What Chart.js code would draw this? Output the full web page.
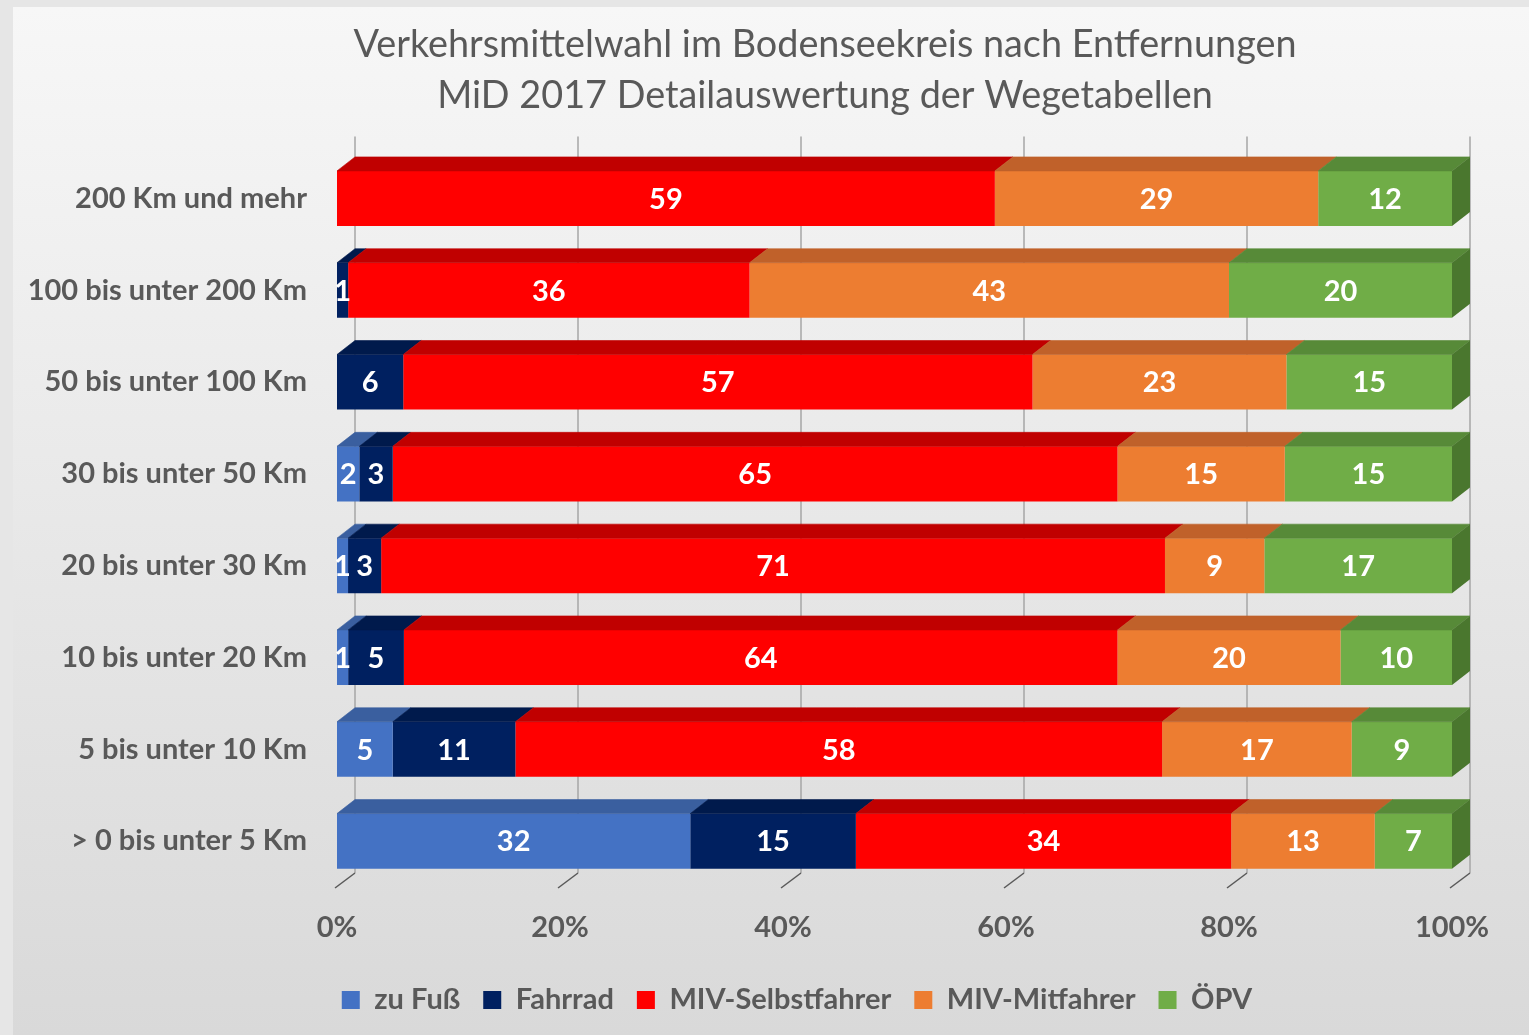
<!DOCTYPE html>
<html>
<head>
<meta charset="utf-8">
<script src="https://cdn.jsdelivr.net/npm/chart.js@4.4.0/dist/chart.umd.min.js"></script>
<style>
  html, body { margin: 0; padding: 0; background: #e4e4e4; }
  canvas { display: block; }
</style>
</head>
<body>
<canvas id="chart" width="1529" height="1035"></canvas>
<script>
// Verkehrsmittelwahl nach Entfernung (MiD 2017), Werte in Prozent je Entfernungsklasse
const categories = ['200 Km und mehr', '100 bis unter 200 Km', '50 bis unter 100 Km', '30 bis unter 50 Km',
                    '20 bis unter 30 Km', '10 bis unter 20 Km', '5 bis unter 10 Km', '> 0 bis unter 5 Km'];
const zuFuss    = [0, 0, 0, 2, 1, 1, 5, 32];
const fahrrad   = [0, 1, 6, 3, 3, 5, 11, 15];
const mivSelbst = [59, 36, 57, 65, 71, 64, 58, 34];
const mivMit    = [29, 43, 23, 15, 9, 20, 17, 13];
const oepv      = [12, 20, 15, 15, 17, 10, 9, 7];
const xTicks    = [0, 20, 40, 60, 80, 100];

const serien = [
    { label: 'zu Fuß', werte: zuFuss, front: '#4472C4', top: '#3A5F9F', side: '#2F4F86' },
    { label: 'Fahrrad', werte: fahrrad, front: '#002060', top: '#001A4C', side: '#00143C' },
    { label: 'MIV-Selbstfahrer', werte: mivSelbst, front: '#FF0000', top: '#C00000', side: '#A00000' },
    { label: 'MIV-Mitfahrer', werte: mivMit, front: '#ED7D31', top: '#C0612A', side: '#A65222' },
    { label: 'ÖPV', werte: oepv, front: '#70AD47', top: '#578A38', side: '#4A772E' }
];

// 100%-Stapel: Summe je Zeile (gerundete Werte ergeben teils 101)
const summen = categories.map((_, j) => serien.reduce((s, r) => s + r.werte[j], 0));

const DX = 18, DY = 14; // Tiefe der 3D-Balken
const grau = '#595959';
const schrift = 'Lato';

const hintergrund = {
    id: 'hintergrund',
    beforeDraw(chart) {
        const { ctx, width, height } = chart;
        ctx.save();
        ctx.fillStyle = '#e6e6e6';
        ctx.fillRect(0, 0, width, height);
        const g = ctx.createLinearGradient(0, 7, 0, height);
        g.addColorStop(0, '#f7f7f7');
        g.addColorStop(1, '#d9d9d9');
        ctx.fillStyle = g;
        ctx.fillRect(13, 7, width - 13, height - 7);
        ctx.restore();
    }
};

const rueckwand = {
    id: 'rueckwand',
    beforeDatasetsDraw(chart) {
        const { ctx, chartArea, scales: { x } } = chart;
        const boden = chartArea.bottom - DY;
        ctx.save();
        ctx.lineWidth = 1.5;
        xTicks.forEach(v => {
            const px = x.getPixelForValue(v);
            ctx.strokeStyle = '#a6a6a6';
            ctx.beginPath();
            ctx.moveTo(px + DX, chartArea.top - DY - 2);
            ctx.lineTo(px + DX, boden);
            ctx.stroke();
            ctx.strokeStyle = grau;
            ctx.beginPath();
            ctx.moveTo(px + DX, boden);
            ctx.lineTo(px - 2, chartArea.bottom + 1);
            ctx.stroke();
        });
        ctx.restore();
    }
};

const balken3d = {
    id: 'balken3d',
    afterDatasetsDraw(chart) {
        const { ctx } = chart;
        ctx.save();
        categories.forEach((_, j) => {
            let letzter = null;
            chart.data.datasets.forEach((ds, i) => {
                if (!ds.data[j]) return;
                const b = chart.getDatasetMeta(i).data[j].getProps(['x', 'base', 'y', 'height'], true);
                const oben = b.y - b.height / 2;
                ctx.fillStyle = serien[i].top;
                ctx.strokeStyle = serien[i].top;
                ctx.lineWidth = 0.6;
                ctx.beginPath();
                ctx.moveTo(b.base, oben);
                ctx.lineTo(b.base + DX, oben - DY);
                ctx.lineTo(b.x + DX, oben - DY);
                ctx.lineTo(b.x, oben);
                ctx.closePath();
                ctx.fill();
                ctx.stroke();
                letzter = { i, b, oben };
            });
            if (letzter) {
                const { i, b, oben } = letzter;
                ctx.fillStyle = serien[i].side;
                ctx.beginPath();
                ctx.moveTo(b.x, oben);
                ctx.lineTo(b.x + DX, oben - DY);
                ctx.lineTo(b.x + DX, oben + b.height - DY);
                ctx.lineTo(b.x, oben + b.height);
                ctx.closePath();
                ctx.fill();
            }
        });
        // Datenbeschriftung
        ctx.fillStyle = '#ffffff';
        ctx.font = 'bold 29px ' + schrift;
        ctx.textAlign = 'center';
        ctx.textBaseline = 'middle';
        serien.forEach((s, i) => {
            chart.getDatasetMeta(i).data.forEach((el, j) => {
                const v = s.werte[j];
                if (!v) return;
                const b = el.getProps(['x', 'base', 'y'], true);
                ctx.fillText(String(v), (b.x + b.base) / 2, b.y + 1);
            });
        });
        ctx.restore();
    }
};

// Titel und Legende wie im Original seitlich versetzen
const versatz = {
    id: 'versatz',
    afterLayout(chart) {
        chart.titleBlock.left += 99;
        chart.titleBlock.right += 99;
        chart.legend.left += 71;
        chart.legend.right += 71;
    }
};

new Chart(document.getElementById('chart'), {
    type: 'bar',
    data: {
        labels: categories,
        datasets: serien.map(s => ({
            label: s.label,
            data: s.werte.map((v, j) => v / summen[j] * 100),
            backgroundColor: s.front,
            borderWidth: 0,
            categoryPercentage: 1,
            barPercentage: 0.6
        }))
    },
    options: {
        indexAxis: 'y',
        responsive: false,
        animation: false,
        layout: { padding: { left: 0, right: 77, top: 7, bottom: 10.5 } },
        plugins: {
            title: {
                display: true,
                text: ['Verkehrsmittelwahl im Bodenseekreis nach Entfernungen', 'MiD 2017 Detailauswertung der Wegetabellen'],
                color: grau,
                font: { family: schrift, size: 37.8, weight: 'normal', lineHeight: 1.35 },
                padding: { top: 12.5, bottom: 31 }
            },
            legend: {
                position: 'bottom',
                labels: {
                    color: grau,
                    font: { family: schrift, size: 29, weight: 'bold' },
                    boxWidth: 18,
                    boxHeight: 18,
                    padding: 23
                }
            },
            tooltip: { enabled: false }
        },
        scales: {
            x: {
                stacked: true,
                min: 0,
                max: 100,
                grid: { display: false, drawTicks: false },
                border: { display: false },
                ticks: {
                    stepSize: 20,
                    padding: 23,
                    color: grau,
                    font: { family: schrift, size: 29, weight: 'bold' },
                    callback: v => v + '%'
                },
                afterFit(scale) { scale.height = 75.5; }
            },
            y: {
                stacked: true,
                grid: { display: false, drawTicks: false },
                border: { display: false },
                ticks: {
                    padding: 30,
                    color: grau,
                    font: { family: schrift, size: 29, weight: 'bold' }
                },
                afterFit(scale) { scale.width = 337; }
            }
        }
    },
    plugins: [hintergrund, rueckwand, balken3d, versatz]
});
</script>
</body>
</html>
